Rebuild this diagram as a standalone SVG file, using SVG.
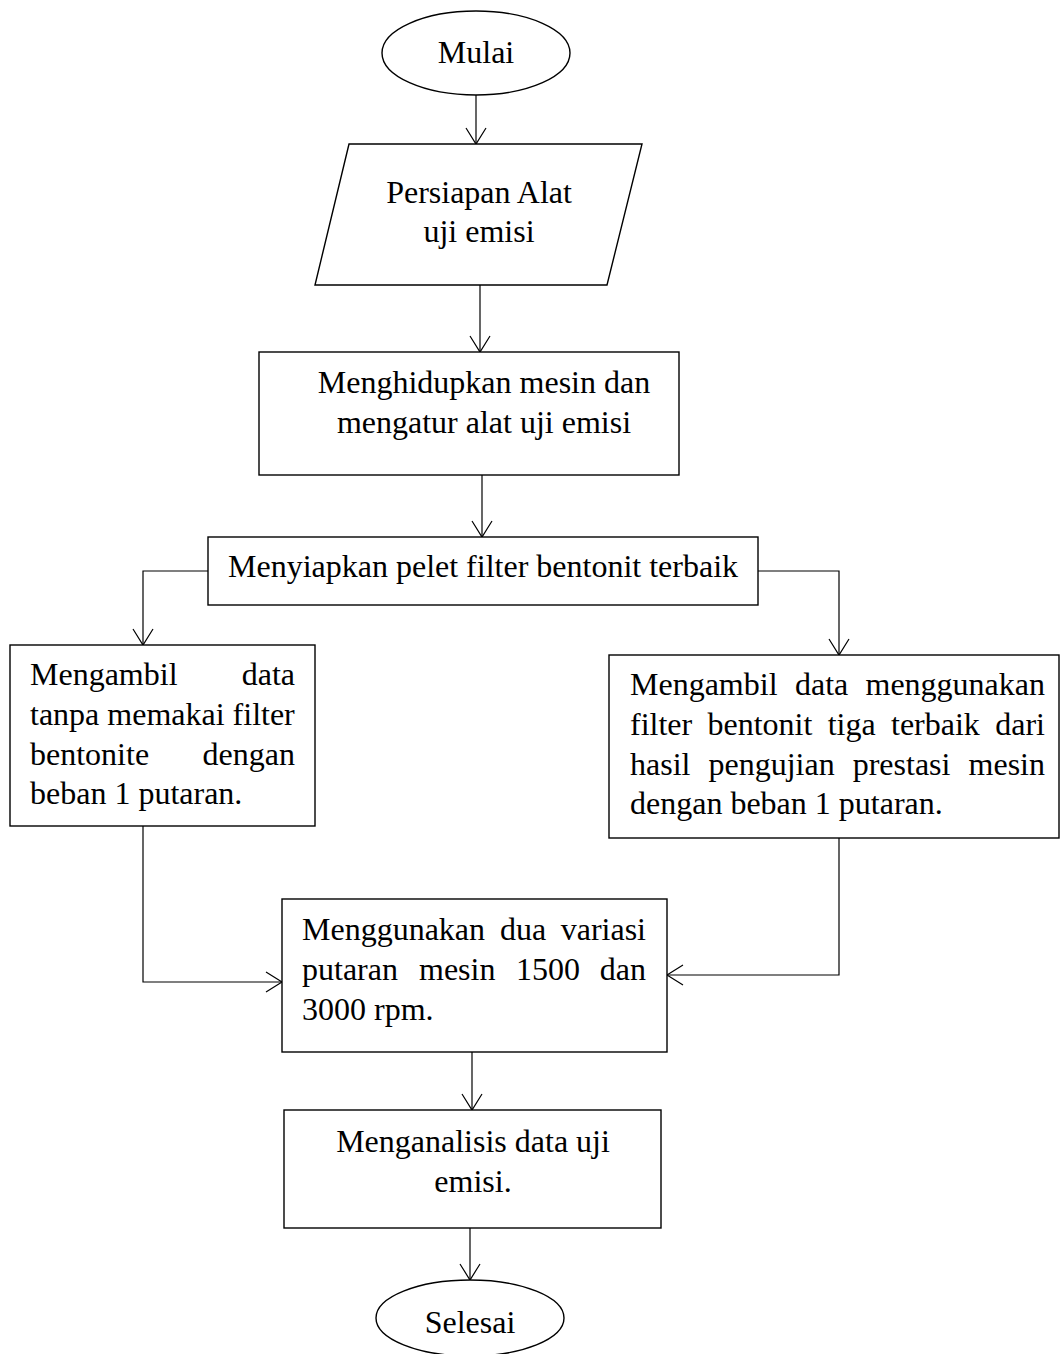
<svg xmlns="http://www.w3.org/2000/svg" width="1060" height="1354" viewBox="0 0 1060 1354">
<style>
.s{fill:#fff;stroke:#000;stroke-width:1.4}
.c{fill:none;stroke:#000;stroke-width:1.2}
text{font-family:"Liberation Serif","Times New Roman",serif;font-size:32px;fill:#000}
.m{text-anchor:middle}
.e{text-anchor:end}
</style>
<defs>
<marker id="a" viewBox="0 0 20 22" refX="18" refY="11" markerWidth="20" markerHeight="22" markerUnits="userSpaceOnUse" orient="auto">
<path d="M2,1 L18,11 L2,21" fill="none" stroke="#000" stroke-width="1.2"/>
</marker>
</defs>
<rect width="1060" height="1354" fill="#fff"/>
<g id="connectors">
<path class="c" d="M476,95 V144" marker-end="url(#a)"/>
<path class="c" d="M480,285 V352" marker-end="url(#a)"/>
<path class="c" d="M482,475 V537" marker-end="url(#a)"/>
<path class="c" d="M208,571 H143 V645" marker-end="url(#a)"/>
<path class="c" d="M758,571 H839 V655" marker-end="url(#a)"/>
<path class="c" d="M143,826 V982 H282" marker-end="url(#a)"/>
<path class="c" d="M839,838 V975 H667" marker-end="url(#a)"/>
<path class="c" d="M472,1052 V1110" marker-end="url(#a)"/>
<path class="c" d="M470,1228 V1280" marker-end="url(#a)"/>
</g>
<g id="mulai">
<ellipse class="s" cx="476" cy="53" rx="94" ry="42"/>
<text class="m" x="476" y="63">Mulai</text>
</g>
<g id="persiapan">
<polygon class="s" points="349,144 642,144 607,285 315,285"/>
<text class="m" x="479" y="203">Persiapan Alat</text>
<text class="m" x="479" y="242">uji emisi</text>
</g>
<g id="menghidupkan">
<rect class="s" x="259" y="352" width="420" height="123"/>
<text class="m" x="484" y="393">Menghidupkan mesin dan</text>
<text class="m" x="484" y="433">mengatur alat uji emisi</text>
</g>
<g id="menyiapkan">
<rect class="s" x="208" y="537" width="550" height="68"/>
<text class="m" x="483" y="577">Menyiapkan pelet filter bentonit terbaik</text>
</g>
<g id="tanpa-filter">
<rect class="s" x="10" y="645" width="305" height="181"/>
<text x="30" y="685">Mengambil</text><text class="e" x="295" y="685">data</text>
<text x="30" y="725">tanpa memakai filter</text>
<text x="30" y="765">bentonite</text><text class="e" x="295" y="765">dengan</text>
<text x="30" y="804">beban 1 putaran.</text>
</g>
<g id="dengan-filter">
<rect class="s" x="609" y="655" width="450" height="183"/>
<text x="630" y="695">Mengambil</text><text x="795" y="695">data</text><text class="e" x="1045" y="695">menggunakan</text>
<text x="630" y="735">filter</text><text x="707.5" y="735">bentonit</text><text x="827.7" y="735">tiga</text><text x="891" y="735">terbaik</text><text class="e" x="1045" y="735">dari</text>
<text x="630" y="775">hasil</text><text x="708.5" y="775">pengujian</text><text x="852.7" y="775">prestasi</text><text class="e" x="1045" y="775">mesin</text>
<text x="630" y="814">dengan beban 1 putaran.</text>
</g>
<g id="menggunakan">
<rect class="s" x="282" y="899" width="385" height="153"/>
<text x="302" y="940">Menggunakan</text><text x="500" y="940">dua</text><text class="e" x="646" y="940">variasi</text>
<text x="302" y="980">putaran</text><text x="419" y="980">mesin</text><text x="516" y="980">1500</text><text class="e" x="646" y="980">dan</text>
<text x="302" y="1020">3000 rpm.</text>
</g>
<g id="menganalisis">
<rect class="s" x="284" y="1110" width="377" height="118"/>
<text class="m" x="473" y="1152">Menganalisis data uji</text>
<text class="m" x="473" y="1192">emisi.</text>
</g>
<g id="selesai">
<ellipse class="s" cx="470" cy="1318" rx="94" ry="38"/>
<text class="m" x="470" y="1333">Selesai</text>
</g>
</svg>
